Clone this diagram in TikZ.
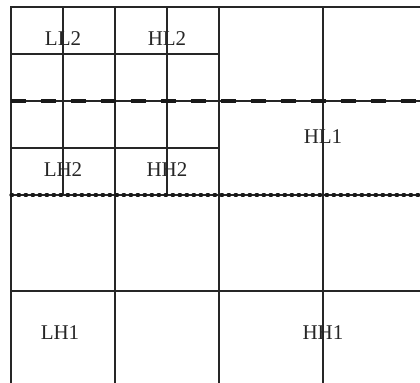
\documentclass[tikz,border=0pt]{standalone}
\usepackage{fontspec}
\setmainfont{Liberation Serif}
\usetikzlibrary{positioning}

\begin{document}
\begin{tikzpicture}[x=0.5pt, y=-0.5pt,
    gridline/.style={draw=black!85, line width=1.1pt},
    thinline/.style={draw=black!85, line width=0.6pt},
    levelone/.style={draw=black!90, line width=2pt, dash pattern=on 7.5pt off 7.5pt},
    leveltwo/.style={draw=black!90, line width=1.6pt, dash pattern=on 0.8pt off 2.7pt, line cap=round},
    band/.style={font=\fontsize{10.5}{12}\selectfont, text=black!85, inner sep=0pt},
  ]
    \useasboundingbox (0,0) rectangle (420,383);
    % outer frame (cut at right and bottom)
    \draw[gridline] (420,7) -- (11,7) -- (11,383);
    \foreach \x in {115,219,323}
      \draw[gridline] (\x,7) -- (\x,383);
    \foreach \x in {63,167}
      \draw[gridline] (\x,7) -- (\x,195);
    \foreach \y in {54,148}
      \draw[gridline] (11,\y) -- (219,\y);
    \draw[gridline] (11,291) -- (420,291);
    % level boundaries
    \draw[thinline] (11,101) -- (420,101);
    \draw[levelone] (11,101) -- (420,101);
    \draw[thinline] (11,195) -- (420,195);
    \draw[leveltwo] (11,195) -- (420,195);
    % subband labels
    \node[band] (ll2) at (63,39) {LL2};
    \node[band] (hl2) at (167,39) {HL2};
    \node[band] (lh2) at (63,170) {LH2};
    \node[band] (hh2) at (167,170) {HH2};
    \node[band] (hl1) at (323,137) {HL1};
    \node[band] (lh1) at (60,333) {LH1};
    \node[band] (hh1) at (323,333) {HH1};
  \end{tikzpicture}
\end{document}
